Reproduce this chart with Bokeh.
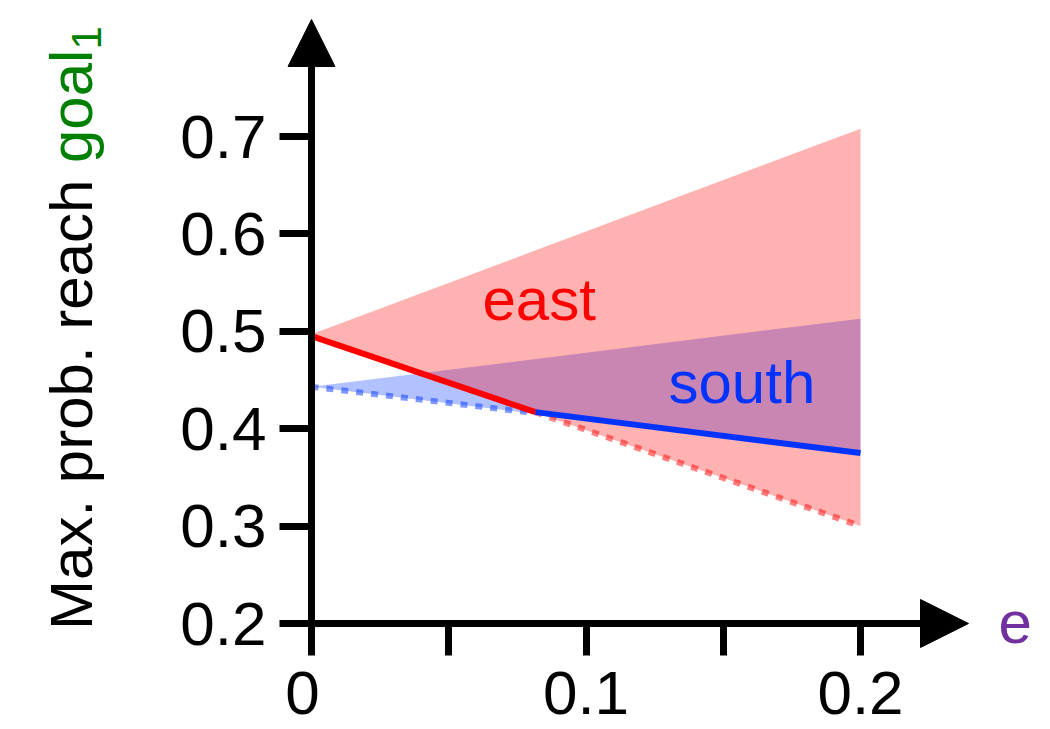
import math
from bokeh.plotting import figure
from bokeh.models import Range1d, FixedTicker, Label, Arrow, NormalHead
from bokeh.embed import file_html
from bokeh.resources import INLINE

# ---- data ----
e_bounds = [0.0, 0.2]
east_upper = [0.497, 0.708]
east_lower = [0.497, 0.300]
south_upper = [0.443, 0.513]
south_lower = [0.443, 0.375]

e_cross = 0.0816
east_solid_e = [0.0, e_cross]
east_solid_v = [0.495, 0.417]
south_solid_e = [e_cross, 0.2]
south_solid_v = [0.417, 0.375]
south_dot_e = [0.0, e_cross]
south_dot_v = [0.443, 0.416]
east_dot_e = [e_cross, 0.2]
east_dot_v = [0.417, 0.300]

x_ticks = [0.0, 0.05, 0.1, 0.15, 0.2]
x_tick_labels = ["0", "", "0.1", "", "0.2"]
y_ticks = [0.2, 0.3, 0.4, 0.5, 0.6, 0.7]
y_tick_labels = ["0.2", "0.3", "0.4", "0.5", "0.6", "0.7"]

# ---- geometry (pixels) ----
W, H = 1042, 729
X0, Y0 = 311, 623          # pixel position of (e=0, value=0.2)
PXX = 0.1 / 274.5          # data units per pixel, x
PXY = 0.1 / 97.4           # data units per pixel, y
BL = 0.38                  # baseline correction, fraction of font size


def dx(px):
    return (px - X0) * PXX


def dy(py):
    return 0.2 + (Y0 - py) * PXY


FONT = "Liberation Sans"
RED = "#ff0000"
BLUE = "#0033ff"

p = figure(width=W, height=H,
           x_range=Range1d(dx(0), dx(W)), y_range=Range1d(dy(H), dy(0)),
           output_backend="svg", toolbar_location=None,
           min_border=0, min_border_left=0, min_border_right=0,
           min_border_top=0, min_border_bottom=0)
p.outline_line_color = None
p.grid.visible = False
p.background_fill_color = "white"
p.border_fill_color = "white"

# fills
p.varea(x=e_bounds, y1=south_lower, y2=south_upper, fill_color=BLUE, fill_alpha=0.3)
p.varea(x=e_bounds, y1=east_lower, y2=east_upper, fill_color=RED, fill_alpha=0.3)

# dotted bounds
p.line(south_dot_e, south_dot_v, line_color=BLUE, line_alpha=0.5, line_width=6, line_dash="7 8")
p.line(east_dot_e, east_dot_v, line_color=RED, line_alpha=0.5, line_width=6, line_dash="7 8")

# solid optimal lines
p.line(east_solid_e, east_solid_v, line_color=RED, line_width=6)
p.line(south_solid_e, south_solid_v, line_color=BLUE, line_width=6)

# axes, crossing at (0, 0.2)
for ax in (p.xaxis[0], p.yaxis[0]):
    ax.axis_line_width = 7
    ax.axis_line_color = "black"
    ax.major_tick_line_width = 7
    ax.major_tick_line_color = "black"
    ax.major_tick_out = 32
    ax.major_tick_in = 0
    ax.minor_tick_out = 0
    ax.minor_tick_in = 0
    ax.major_label_text_font = FONT
    ax.major_label_text_font_size = "62px"
    ax.major_label_text_color = "black"

p.xaxis.fixed_location = 0.2
p.xaxis.bounds = (0.0, dx(958))
p.xaxis.ticker = FixedTicker(ticks=x_ticks)
p.xaxis.major_label_overrides = {t: "" for t in x_ticks}

p.yaxis.fixed_location = 0.0
p.yaxis.bounds = (0.2, dy(30))
p.yaxis.ticker = FixedTicker(ticks=y_ticks)
p.yaxis.major_label_overrides = dict(zip(y_ticks, y_tick_labels))
p.yaxis.major_label_standoff = 13


def label(text, px, baseline_py, size, color, align="left"):
    p.add_layout(Label(x=dx(px), y=dy(baseline_py - BL * size), text=text,
                       text_font=FONT, text_font_size=f"{size}px", text_color=color,
                       text_align=align, text_baseline="alphabetic"))


def vlabel(text, baseline_px, start_py, size, color):
    p.add_layout(Label(x=dx(baseline_px - BL * size), y=dy(start_py), text=text,
                       angle=math.pi / 2, text_font=FONT, text_font_size=f"{size}px",
                       text_color=color, text_align="left", text_baseline="alphabetic"))


# x tick labels (under the axis ticks)
for t, lab in zip(x_ticks, x_tick_labels):
    if lab:
        off = -9 if lab == "0" else 0
        label(lab, X0 + t / PXX + off, 716, 62, "black", align="center")

# arrow heads
p.add_layout(Arrow(end=NormalHead(size=48, fill_color="black", line_color="black", line_width=1),
                   x_start=0, y_start=0.2, x_end=dx(968), y_end=0.2, line_alpha=0))
p.add_layout(Arrow(end=NormalHead(size=47, fill_color="black", line_color="black", line_width=1),
                   x_start=0, y_start=0.2, x_end=0, y_end=dy(19), line_alpha=0))

# axis titles
label("e", 998, 645, 60, "#7030a0")
vlabel("Max. prob. reach ", 93.3, 629.4, 60, "black")
vlabel("goal", 93.3, 162.5, 60, "#008000")
vlabel("1", 101.7, 49.1, 42, "#008000")

# region labels
label("east", 482, 322, 60, RED)
label("south", 668, 405, 60, BLUE)

open("out.html", "w").write(file_html(p, INLINE))
